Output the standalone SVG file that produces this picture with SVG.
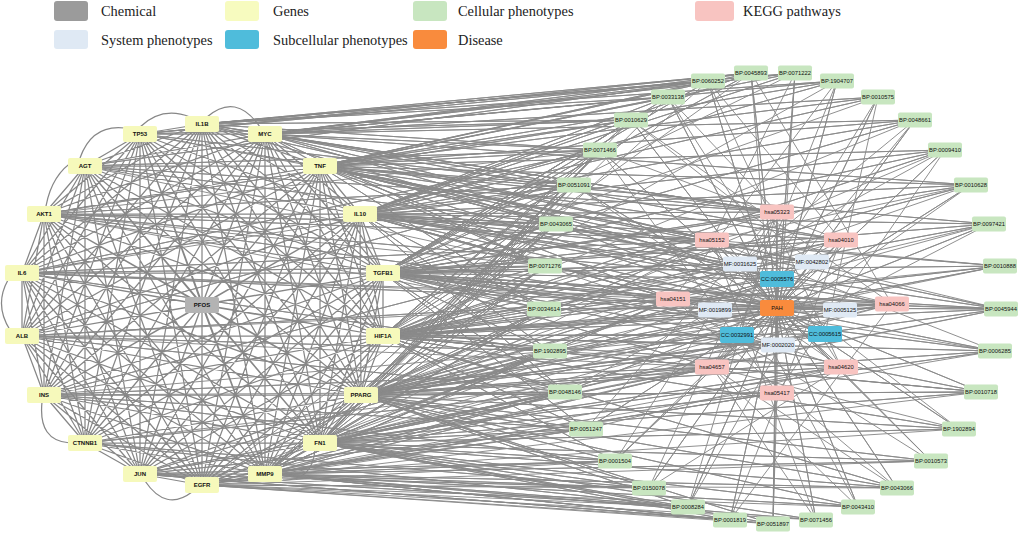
<svg xmlns="http://www.w3.org/2000/svg" width="1026" height="534" viewBox="0 0 1026 534">
<style>
.leg{font-family:"Liberation Serif","Times New Roman",serif;font-size:14.4px;fill:#222}
.e{fill:none;stroke:#878787;stroke-width:1.25;stroke-linejoin:round}
.er{fill:none;stroke:#8a8a8a;stroke-width:0.95;stroke-linejoin:round}
.n rect{rx:2;ry:2}
.n text{font-family:"Liberation Sans",Arial,sans-serif;font-size:5.8px;fill:#111;text-anchor:middle}
.gene rect{fill:#f6f9bb}
.gene text{font-size:6px;font-weight:bold}
.chem rect{fill:#b3b3b3}
.chem text{font-size:6px;font-weight:bold}
.bp rect{fill:#c8e6c0}
.kegg rect{fill:#f8c4c1}
.mf rect{fill:#dfe9f4}
.cc rect{fill:#4fbcdb}
.dis rect{fill:#f98b3d}
</style>
<rect width="1026" height="534" fill="#ffffff"/>
<g id="legend">
<rect x="54" y="1" width="34" height="20" rx="3" fill="#9b9b9b"/><text class="leg" x="101" y="16">Chemical</text>
<rect x="225" y="1" width="34" height="20" rx="3" fill="#f7fbbf"/><text class="leg" x="273" y="16">Genes</text>
<rect x="413" y="1" width="34" height="20" rx="3" fill="#c8e6c0"/><text class="leg" x="458" y="16">Cellular phenotypes</text>
<rect x="695" y="1" width="39" height="20" rx="3" fill="#f8c4c1"/><text class="leg" x="743" y="16">KEGG pathways</text>
<rect x="54" y="30" width="34" height="19" rx="3" fill="#dfe9f4"/><text class="leg" x="101" y="45">System phenotypes</text>
<rect x="225" y="30" width="34" height="19" rx="3" fill="#4fbcdb"/><text class="leg" x="273" y="45">Subcellular phenotypes</text>
<rect x="413" y="30" width="34" height="19" rx="3" fill="#f98b3d"/><text class="leg" x="458" y="45">Disease</text>
</g>
<g id="connectors">
<path class="e" d="M202 124L140 134 202 124 265 134 202 124 85 166 202 124 320 166 202 124 44 214 202 124 360 214 202 124 22 273 202 124 383 273 202 124 202 305 202 124 22 336 202 124 383 336 202 124 44 395 202 124 361 395 202 124 85 443 202 124 320 443 202 124 140 474 202 124 265 474 202 124 202 485
M140 134L265 134 140 134 85 166 140 134 320 166 140 134 44 214 140 134 360 214 140 134 22 273 140 134 383 273 140 134 202 305 140 134 22 336 140 134 383 336 140 134 44 395 140 134 361 395 140 134 85 443 140 134 320 443 140 134 140 474 140 134 265 474 140 134 202 485
M265 134L85 166 265 134 320 166 265 134 44 214 265 134 360 214 265 134 22 273 265 134 383 273 265 134 202 305 265 134 22 336 265 134 383 336 265 134 44 395 265 134 361 395 265 134 85 443 265 134 320 443 265 134 140 474 265 134 265 474 265 134 202 485
M85 166L320 166 85 166 44 214 85 166 360 214 85 166 22 273 85 166 383 273 85 166 202 305 85 166 22 336 85 166 383 336 85 166 44 395 85 166 361 395 85 166 85 443 85 166 320 443 85 166 140 474 85 166 265 474 85 166 202 485
M320 166L44 214 320 166 360 214 320 166 22 273 320 166 383 273 320 166 202 305 320 166 22 336 320 166 383 336 320 166 44 395 320 166 361 395 320 166 85 443 320 166 320 443 320 166 140 474 320 166 265 474 320 166 202 485
M44 214L360 214 44 214 22 273 44 214 383 273 44 214 202 305 44 214 22 336 44 214 383 336 44 214 44 395 44 214 361 395 44 214 85 443 44 214 320 443 44 214 140 474 44 214 265 474 44 214 202 485
M360 214L22 273 360 214 383 273 360 214 202 305 360 214 22 336 360 214 383 336 360 214 44 395 360 214 361 395 360 214 85 443 360 214 320 443 360 214 140 474 360 214 265 474 360 214 202 485
M22 273L383 273 22 273 202 305 22 273 22 336 22 273 383 336 22 273 44 395 22 273 361 395 22 273 85 443 22 273 320 443 22 273 140 474 22 273 265 474 22 273 202 485
M383 273L202 305 383 273 22 336 383 273 383 336 383 273 44 395 383 273 361 395 383 273 85 443 383 273 320 443 383 273 140 474 383 273 265 474 383 273 202 485
M202 305L22 336 202 305 383 336 202 305 44 395 202 305 361 395 202 305 85 443 202 305 320 443 202 305 140 474 202 305 265 474 202 305 202 485
M22 336L383 336 22 336 44 395 22 336 361 395 22 336 85 443 22 336 320 443 22 336 140 474 22 336 265 474 22 336 202 485
M383 336L44 395 383 336 361 395 383 336 85 443 383 336 320 443 383 336 140 474 383 336 265 474 383 336 202 485
M44 395L361 395 44 395 85 443 44 395 320 443 44 395 140 474 44 395 265 474 44 395 202 485
M361 395L85 443 361 395 320 443 361 395 140 474 361 395 265 474 361 395 202 485
M85 443L320 443 85 443 140 474 85 443 265 474 85 443 202 485
M320 443L140 474 320 443 265 474 320 443 202 485
M140 474L265 474 140 474 202 485
M265 474L202 485"/>
<path class="e" d="M80 158Q92 124 125 128M140 127Q162 106 190 117M207 117Q236 92 260 127M46 206Q52 174 75 160M8 280Q-6 305 10 330M42 402Q38 441 70 443M145 481Q166 512 192 492M315 450Q312 481 283 480"/>
<path class="er" d="M751 73L202 124 751 73 140 134 751 73 265 134 751 73 320 166 751 73 360 214 751 73 383 273 751 73 383 336
M795 73L202 124 795 73 265 134 795 73 320 166 795 73 360 214 795 73 383 273
M708 81L202 124 708 81 140 134 708 81 265 134 708 81 85 166 708 81 320 166 708 81 383 273 708 81 361 395
M837 81L202 124 837 81 265 134 837 81 320 166 837 81 360 214 837 81 383 336
M668 97L202 124 668 97 265 134 668 97 320 166 668 97 360 214 668 97 383 273 668 97 320 443
M878 97L265 134 878 97 320 166 878 97 360 214 878 97 383 273
M631 120L202 124 631 120 265 134 631 120 320 166 631 120 360 214 631 120 383 273 631 120 383 336 631 120 361 395
M915 120L265 134 915 120 320 166 915 120 360 214 915 120 383 273 915 120 383 336
M600 150L202 124 600 150 265 134 600 150 320 166 600 150 360 214 600 150 383 273 600 150 383 336 600 150 361 395 600 150 320 443 600 150 44 214
M945 150L320 166 945 150 360 214 945 150 383 273 945 150 383 336 945 150 361 395
M574 185L265 134 574 185 320 166 574 185 360 214 574 185 383 273 574 185 383 336 574 185 361 395 574 185 320 443 574 185 265 474 574 185 22 273
M971 185L265 134 971 185 320 166 971 185 360 214 971 185 383 273 971 185 383 336 971 185 361 395
M556 224L202 124 556 224 320 166 556 224 360 214 556 224 383 273 556 224 383 336 556 224 361 395 556 224 320 443 556 224 265 474 556 224 202 485
M989 224L320 166 989 224 360 214 989 224 383 273 989 224 383 336 989 224 361 395
M545 266L265 134 545 266 320 166 545 266 360 214 545 266 383 273 545 266 383 336 545 266 361 395 545 266 320 443 545 266 265 474 545 266 44 214
M1000 266L360 214 1000 266 383 273 1000 266 383 336 1000 266 361 395
M544 309L320 166 544 309 360 214 544 309 383 273 544 309 383 336 544 309 361 395 544 309 320 443 544 309 265 474 544 309 202 485 544 309 22 336
M1001 309L320 166 1001 309 360 214 1001 309 383 273 1001 309 383 336 1001 309 361 395 1001 309 320 443
M550 351L360 214 550 351 383 273 550 351 383 336 550 351 361 395 550 351 320 443 550 351 265 474 550 351 202 485
M995 351L383 273 995 351 383 336 995 351 361 395 995 351 320 443 995 351 265 474
M565 392L360 214 565 392 383 273 565 392 383 336 565 392 361 395 565 392 320 443 565 392 140 474 565 392 265 474 565 392 202 485 565 392 44 395
M981 392L383 273 981 392 383 336 981 392 361 395 981 392 320 443 981 392 202 485
M586 429L383 273 586 429 383 336 586 429 361 395 586 429 320 443 586 429 265 474 586 429 202 485
M959 429L383 336 959 429 361 395 959 429 320 443 959 429 265 474
M615 461L383 336 615 461 361 395 615 461 320 443 615 461 140 474 615 461 265 474 615 461 202 485
M931 461L361 395 931 461 320 443 931 461 265 474 931 461 202 485
M649 488L361 395 649 488 320 443 649 488 140 474 649 488 265 474 649 488 202 485
M897 488L383 336 897 488 361 395 897 488 320 443 897 488 265 474 897 488 202 485
M688 507L361 395 688 507 320 443 688 507 140 474 688 507 265 474 688 507 202 485
M858 507L361 395 858 507 320 443 858 507 265 474 858 507 202 485
M730 520L320 443 730 520 140 474 730 520 265 474 730 520 202 485
M816 520L320 443 816 520 265 474 816 520 202 485
M773 524L361 395 773 524 320 443 773 524 265 474 773 524 202 485
M777 212L202 124 777 212 265 134 777 212 320 166 777 212 360 214 777 212 383 273 777 212 383 336
M712 240L202 124 712 240 265 134 712 240 320 166 712 240 360 214 712 240 383 273 712 240 383 336 712 240 361 395 712 240 320 443
M841 240L265 134 841 240 320 166 841 240 360 214 841 240 383 273 841 240 383 336 841 240 361 395
M740 264L320 166 740 264 360 214 740 264 383 273 740 264 383 336
M812 262L320 166 812 262 360 214 812 262 383 273
M777 279L265 134 777 279 320 166 777 279 360 214 777 279 383 273 777 279 383 336 777 279 361 395 777 279 320 443
M673 299L320 166 673 299 360 214 673 299 383 273 673 299 383 336 673 299 361 395 673 299 320 443 673 299 265 474 673 299 44 214 673 299 22 273
M715 310L360 214 715 310 383 273 715 310 383 336 715 310 361 395
M777 308L320 166 777 308 360 214 777 308 383 273 777 308 383 336 777 308 361 395 777 308 320 443
M840 310L383 273 840 310 383 336 840 310 361 395
M892 304L360 214 892 304 383 273 892 304 383 336 892 304 361 395 892 304 320 443
M737 335L383 273 737 335 383 336 737 335 361 395 737 335 320 443
M825 334L383 273 825 334 383 336 825 334 361 395 825 334 320 443
M778 345L383 336 778 345 361 395 778 345 320 443
M712 367L383 273 712 367 383 336 712 367 361 395 712 367 320 443 712 367 265 474 712 367 202 485
M841 367L383 336 841 367 361 395 841 367 320 443 841 367 265 474
M777 393L361 395 777 393 320 443 777 393 265 474 777 393 202 485
M44 214L631 120 44 214 574 185 44 214 556 224 44 214 712 240 44 214 777 279 44 214 544 309
M22 273L600 150 22 273 545 266 22 273 550 351 22 273 712 240 22 273 777 308 22 273 1001 309
M22 336L574 185 22 336 550 351 22 336 565 392 22 336 673 299 22 336 712 367
M44 395L545 266 44 395 586 429 44 395 615 461 44 395 712 367 44 395 737 335
M85 166L600 150 85 166 556 224 85 166 777 212 85 166 545 266
M85 443L565 392 85 443 649 488 85 443 688 507 85 443 712 367
M140 134L631 120 140 134 574 185 140 134 712 240
M140 474L586 429 140 474 550 351 140 474 730 520"/>
<path class="er" d="M777 308L751 73 777 308 795 73 777 308 708 81 777 308 837 81 777 308 668 97 777 308 878 97 777 308 631 120 777 308 915 120 777 308 600 150 777 308 945 150 777 308 574 185 777 308 971 185 777 308 556 224 777 308 989 224 777 308 545 266 777 308 1000 266 777 308 544 309 777 308 1001 309 777 308 550 351 777 308 995 351 777 308 565 392 777 308 981 392 777 308 586 429 777 308 959 429 777 308 615 461 777 308 931 461 777 308 649 488 777 308 897 488 777 308 688 507 777 308 858 507 777 308 730 520 777 308 816 520 777 308 773 524 777 308 777 212 777 308 712 240 777 308 841 240 777 308 740 264 777 308 812 262 777 308 777 279 777 308 673 299 777 308 715 310 777 308 840 310 777 308 892 304 777 308 737 335 777 308 825 334 777 308 778 345 777 308 712 367 777 308 841 367 777 308 777 393
M892 304L751 73 777 393M712 240L795 73 778 345M841 240L708 81 841 367M673 299L837 81 737 335M841 367L668 97 777 212M825 334L878 97 712 367M892 304L631 120 812 262M712 367L915 120 740 264M777 393L600 150 841 240M673 299L945 150 777 393M841 367L574 185 777 212M712 367L971 185 712 240M892 304L556 224 777 279M673 299L989 224 712 367M840 310L545 266 841 367M712 240L1000 266 673 299M892 304L544 309 841 240M673 299L1001 309 712 367M1001 309L712 240M841 367L550 351 892 304M673 299L995 351 712 240M841 240L565 392 892 304M712 367L981 392 777 393M841 367L586 429 777 212M712 367L959 429 712 240M841 240L615 461 777 212M673 299L931 461 712 240M841 367L649 488 777 212M712 367L897 488 673 299M841 240L688 507 777 212M712 240L858 507 712 367M841 240L730 520 892 304M712 240L816 520 712 367M777 393L773 524 777 212"/>
</g>
<g id="n-IL1B" class="n gene"><rect x="185" y="116" width="34" height="16"/><text x="202" y="126">IL1B</text></g>
<g id="n-TP53" class="n gene"><rect x="123" y="126" width="34" height="16"/><text x="140" y="136">TP53</text></g>
<g id="n-MYC" class="n gene"><rect x="248" y="126" width="34" height="16"/><text x="265" y="136">MYC</text></g>
<g id="n-AGT" class="n gene"><rect x="68" y="158" width="34" height="16"/><text x="85" y="168">AGT</text></g>
<g id="n-TNF" class="n gene"><rect x="303" y="158" width="34" height="16"/><text x="320" y="168">TNF</text></g>
<g id="n-AKT1" class="n gene"><rect x="27" y="206" width="34" height="16"/><text x="44" y="216">AKT1</text></g>
<g id="n-IL10" class="n gene"><rect x="343" y="206" width="34" height="16"/><text x="360" y="216">IL10</text></g>
<g id="n-IL6" class="n gene"><rect x="5" y="265" width="34" height="16"/><text x="22" y="275">IL6</text></g>
<g id="n-TGFB1" class="n gene"><rect x="366" y="265" width="34" height="16"/><text x="383" y="275">TGFB1</text></g>
<g id="n-PFOS" class="n chem"><rect x="185" y="297" width="34" height="16"/><text x="202" y="307">PFOS</text></g>
<g id="n-ALB" class="n gene"><rect x="5" y="328" width="34" height="16"/><text x="22" y="338">ALB</text></g>
<g id="n-HIF1A" class="n gene"><rect x="366" y="328" width="34" height="16"/><text x="383" y="338">HIF1A</text></g>
<g id="n-INS" class="n gene"><rect x="27" y="387" width="34" height="16"/><text x="44" y="397">INS</text></g>
<g id="n-PPARG" class="n gene"><rect x="344" y="387" width="34" height="16"/><text x="361" y="397">PPARG</text></g>
<g id="n-CTNNB1" class="n gene"><rect x="68" y="435" width="34" height="16"/><text x="85" y="445">CTNNB1</text></g>
<g id="n-FN1" class="n gene"><rect x="303" y="435" width="34" height="16"/><text x="320" y="445">FN1</text></g>
<g id="n-JUN" class="n gene"><rect x="123" y="466" width="34" height="16"/><text x="140" y="476">JUN</text></g>
<g id="n-MMP9" class="n gene"><rect x="248" y="466" width="34" height="16"/><text x="265" y="476">MMP9</text></g>
<g id="n-EGFR" class="n gene"><rect x="185" y="477" width="34" height="16"/><text x="202" y="487">EGFR</text></g>
<g id="n-BP0045893" class="n bp"><rect x="734" y="65.5" width="34" height="15"/><text x="751" y="75">BP:0045893</text></g>
<g id="n-BP0071222" class="n bp"><rect x="778" y="65.5" width="34" height="15"/><text x="795" y="75">BP:0071222</text></g>
<g id="n-BP0060252" class="n bp"><rect x="691" y="73.5" width="34" height="15"/><text x="708" y="83">BP:0060252</text></g>
<g id="n-BP1904707" class="n bp"><rect x="820" y="73.5" width="34" height="15"/><text x="837" y="83">BP:1904707</text></g>
<g id="n-BP0033138" class="n bp"><rect x="651" y="89.5" width="34" height="15"/><text x="668" y="99">BP:0033138</text></g>
<g id="n-BP0010575" class="n bp"><rect x="861" y="89.5" width="34" height="15"/><text x="878" y="99">BP:0010575</text></g>
<g id="n-BP0010629" class="n bp"><rect x="614" y="112.5" width="34" height="15"/><text x="631" y="122">BP:0010629</text></g>
<g id="n-BP0048661" class="n bp"><rect x="898" y="112.5" width="34" height="15"/><text x="915" y="122">BP:0048661</text></g>
<g id="n-BP0071466" class="n bp"><rect x="583" y="142.5" width="34" height="15"/><text x="600" y="152">BP:0071466</text></g>
<g id="n-BP0009410" class="n bp"><rect x="928" y="142.5" width="34" height="15"/><text x="945" y="152">BP:0009410</text></g>
<g id="n-BP0051091" class="n bp"><rect x="557" y="177.5" width="34" height="15"/><text x="574" y="187">BP:0051091</text></g>
<g id="n-BP0010628" class="n bp"><rect x="954" y="177.5" width="34" height="15"/><text x="971" y="187">BP:0010628</text></g>
<g id="n-BP0043065" class="n bp"><rect x="539" y="216.5" width="34" height="15"/><text x="556" y="226">BP:0043065</text></g>
<g id="n-BP0097421" class="n bp"><rect x="972" y="216.5" width="34" height="15"/><text x="989" y="226">BP:0097421</text></g>
<g id="n-BP0071276" class="n bp"><rect x="528" y="258.5" width="34" height="15"/><text x="545" y="268">BP:0071276</text></g>
<g id="n-BP0010888" class="n bp"><rect x="983" y="258.5" width="34" height="15"/><text x="1000" y="268">BP:0010888</text></g>
<g id="n-BP0034614" class="n bp"><rect x="527" y="301.5" width="34" height="15"/><text x="544" y="311">BP:0034614</text></g>
<g id="n-BP0045944" class="n bp"><rect x="984" y="301.5" width="34" height="15"/><text x="1001" y="311">BP:0045944</text></g>
<g id="n-BP1902895" class="n bp"><rect x="533" y="343.5" width="34" height="15"/><text x="550" y="353">BP:1902895</text></g>
<g id="n-BP0006285" class="n bp"><rect x="978" y="343.5" width="34" height="15"/><text x="995" y="353">BP:0006285</text></g>
<g id="n-BP0048146" class="n bp"><rect x="548" y="384.5" width="34" height="15"/><text x="565" y="394">BP:0048146</text></g>
<g id="n-BP0010718" class="n bp"><rect x="964" y="384.5" width="34" height="15"/><text x="981" y="394">BP:0010718</text></g>
<g id="n-BP0051247" class="n bp"><rect x="569" y="421.5" width="34" height="15"/><text x="586" y="431">BP:0051247</text></g>
<g id="n-BP1902894" class="n bp"><rect x="942" y="421.5" width="34" height="15"/><text x="959" y="431">BP:1902894</text></g>
<g id="n-BP0001504" class="n bp"><rect x="598" y="453.5" width="34" height="15"/><text x="615" y="463">BP:0001504</text></g>
<g id="n-BP0010573" class="n bp"><rect x="914" y="453.5" width="34" height="15"/><text x="931" y="463">BP:0010573</text></g>
<g id="n-BP0150078" class="n bp"><rect x="632" y="480.5" width="34" height="15"/><text x="649" y="490">BP:0150078</text></g>
<g id="n-BP0043066" class="n bp"><rect x="880" y="480.5" width="34" height="15"/><text x="897" y="490">BP:0043066</text></g>
<g id="n-BP0008284" class="n bp"><rect x="671" y="499.5" width="34" height="15"/><text x="688" y="509">BP:0008284</text></g>
<g id="n-BP0043410" class="n bp"><rect x="841" y="499.5" width="34" height="15"/><text x="858" y="509">BP:0043410</text></g>
<g id="n-BP0001819" class="n bp"><rect x="713" y="512.5" width="34" height="15"/><text x="730" y="522">BP:0001819</text></g>
<g id="n-BP0071456" class="n bp"><rect x="799" y="512.5" width="34" height="15"/><text x="816" y="522">BP:0071456</text></g>
<g id="n-BP0051897" class="n bp"><rect x="756" y="516.5" width="34" height="15"/><text x="773" y="526">BP:0051897</text></g>
<g id="n-hsa05323" class="n kegg"><rect x="760" y="204.5" width="34" height="15"/><text x="777" y="214">hsa05323</text></g>
<g id="n-hsa05152" class="n kegg"><rect x="695" y="232.5" width="34" height="15"/><text x="712" y="242">hsa05152</text></g>
<g id="n-hsa04010" class="n kegg"><rect x="824" y="232.5" width="34" height="15"/><text x="841" y="242">hsa04010</text></g>
<g id="n-MF0031625" class="n mf"><rect x="723" y="256.5" width="34" height="15"/><text x="740" y="266">MF:0031625</text></g>
<g id="n-MF0042802" class="n mf"><rect x="795" y="254.5" width="34" height="15"/><text x="812" y="264">MF:0042802</text></g>
<g id="n-CC0005576" class="n cc"><rect x="760" y="271" width="34" height="16"/><text x="777" y="281">CC:0005576</text></g>
<g id="n-hsa04151" class="n kegg"><rect x="656" y="291.5" width="34" height="15"/><text x="673" y="301">hsa04151</text></g>
<g id="n-MF0019899" class="n mf"><rect x="698" y="302.5" width="34" height="15"/><text x="715" y="312">MF:0019899</text></g>
<g id="n-PAH" class="n dis"><rect x="760" y="300" width="34" height="16"/><text x="777" y="310">PAH</text></g>
<g id="n-MF0005125" class="n mf"><rect x="823" y="302.5" width="34" height="15"/><text x="840" y="312">MF:0005125</text></g>
<g id="n-hsa04066" class="n kegg"><rect x="875" y="296.5" width="34" height="15"/><text x="892" y="306">hsa04066</text></g>
<g id="n-CC0032991" class="n cc"><rect x="720" y="327" width="34" height="16"/><text x="737" y="337">CC:0032991</text></g>
<g id="n-CC0005615" class="n cc"><rect x="808" y="326" width="34" height="16"/><text x="825" y="336">CC:0005615</text></g>
<g id="n-MF0002020" class="n mf"><rect x="761" y="337.5" width="34" height="15"/><text x="778" y="347">MF:0002020</text></g>
<g id="n-hsa04657" class="n kegg"><rect x="695" y="359.5" width="34" height="15"/><text x="712" y="369">hsa04657</text></g>
<g id="n-hsa04620" class="n kegg"><rect x="824" y="359.5" width="34" height="15"/><text x="841" y="369">hsa04620</text></g>
<g id="n-hsa05417" class="n kegg"><rect x="760" y="385.5" width="34" height="15"/><text x="777" y="395">hsa05417</text></g>
</svg>
